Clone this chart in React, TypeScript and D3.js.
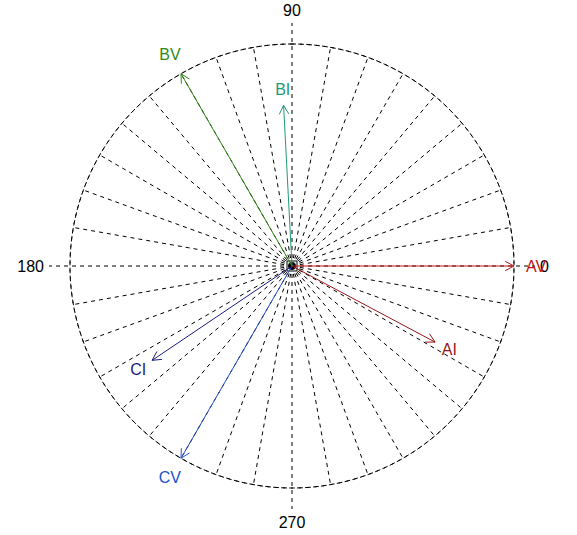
import React from "react";
import * as d3 from "d3";

// Phasor names, magnitudes (relative to rated value) and angles in degrees
const phasorNames = ["AV", "AI", "BV", "BI", "CV", "CI"];
const magnitudes = [1.0, 0.73, 1.0, 0.725, 1.0, 0.76];
const anglesDeg = [0, -28, 120, 93, 240, 214];
const phasorColors = ["#c41414", "#961818", "#2f8a12", "#1f9a78", "#2350d0", "#1c1c80"];

// Angular grid
const gridAngles = d3.range(0, 360, 10);
const axisTickAngles = [0, 90, 180, 270];
const axisTickLabels = ["0", "90", "180", "270"];

const W = 577;
const H = 535;
const cx = 292;
const cy = 266;
const R = 222;

const rScale = d3.scaleLinear().domain([0, 1]).range([0, R]);
const toRad = (deg: number) => (deg * Math.PI) / 180;
const px = (r: number, deg: number) => cx + r * Math.cos(toRad(deg));
const py = (r: number, deg: number) => cy - r * Math.sin(toRad(deg));

const FONT = "'Liberation Sans', Arial, sans-serif";

function Arrow({ mag, deg, color }: { mag: number; deg: number; color: string }) {
  const r = rScale(mag);
  const x2 = px(r, deg);
  const y2 = py(r, deg);
  const head = 10;
  const spread = 28;
  const back = deg + 180;
  const h1x = x2 + head * Math.cos(toRad(back - spread));
  const h1y = y2 - head * Math.sin(toRad(back - spread));
  const h2x = x2 + head * Math.cos(toRad(back + spread));
  const h2y = y2 - head * Math.sin(toRad(back + spread));
  const line = d3.line();
  return (
    <g stroke={color} strokeWidth={1} fill="none">
      <path d={line([[cx, cy], [x2, y2]]) ?? ""} />
      <path d={line([[h1x, h1y], [x2, y2], [h2x, h2y]]) ?? ""} />
    </g>
  );
}

export default function App() {
  const arc = d3.arc()({ innerRadius: R, outerRadius: R, startAngle: 0, endAngle: 2 * Math.PI }) ?? "";
  return (
    <svg
      width={W}
      height={H}
      style={{ position: "absolute", left: 0, top: 0, background: "#fff" }}
      fontFamily={FONT}
    >
      <rect width={W} height={H} fill="#fff" />
      {/* dashed grid: outer circle and radial spokes */}
      <path d={arc} transform={`translate(${cx},${cy})`} fill="none" stroke="#000" strokeDasharray="4,4" />
      {gridAngles.map((a) => {
        const isAxis = a % 90 === 0;
        const rr = isAxis ? 243 : R;
        return (
          <line
            key={a}
            x1={cx}
            y1={cy}
            x2={px(rr, a)}
            y2={py(rr, a)}
            stroke="#000"
            strokeDasharray="4,4"
          />
        );
      })}
      <rect x={cx - 5} y={cy - 5} width={10} height={10} fill="none" stroke="#000" strokeWidth={1} />

      {/* axis angle labels */}
      {axisTickAngles.map((a, i) => {
        const horizontal = a === 0 || a === 180;
        const rr = horizontal ? 248 : 256;
        const anchor = a === 0 ? "start" : a === 180 ? "end" : "middle";
        return (
          <text
            key={a}
            x={px(rr, a)}
            y={py(rr, a)}
            textAnchor={anchor}
            dominantBaseline="central"
            fontSize={16}
            fill="#000"
          >
            {axisTickLabels[i]}
          </text>
        );
      })}

      {/* phasor arrows */}
      {phasorNames.map((n, i) => (
        <Arrow key={n} mag={magnitudes[i]} deg={anglesDeg[i]} color={phasorColors[i]} />
      ))}
      {phasorNames.map((n, i) => {
        const rr = rScale(magnitudes[i]) * 1.1;
        return (
          <text
            key={n}
            x={px(rr, anglesDeg[i])}
            y={py(rr, anglesDeg[i])}
            textAnchor="middle"
            dominantBaseline="central"
            fontSize={16}
            fill={phasorColors[i]}
          >
            {n}
          </text>
        );
      })}
    </svg>
  );
}
